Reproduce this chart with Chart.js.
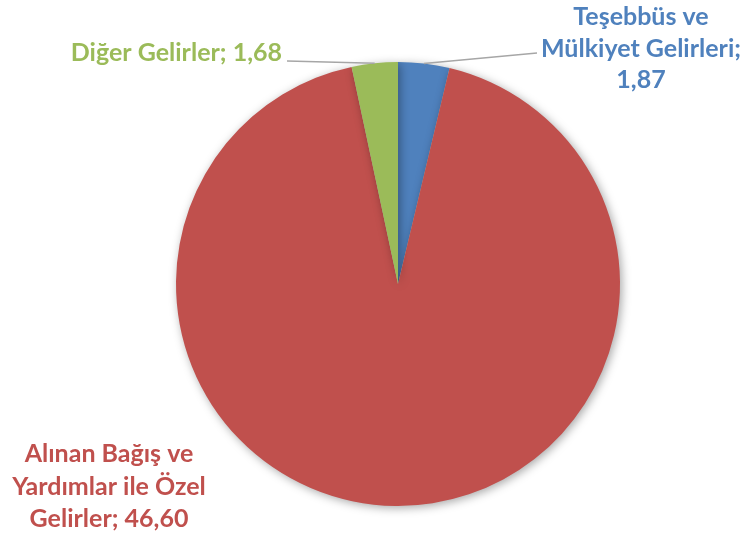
<!DOCTYPE html>
<html>
<head>
<meta charset="utf-8">
<script src="https://cdn.jsdelivr.net/npm/chart.js@4"></script>
<style>
  html, body { margin: 0; padding: 0; background: #fff; }
  #wrap { width: 745px; height: 535px; position: relative; }
</style>
</head>
<body>
<div id="wrap"><canvas id="chart" width="745" height="535"></canvas></div>
<script>
// slice data, clockwise from 12 o'clock
const categories = ['Teşebbüs ve Mülkiyet Gelirleri', 'Alınan Bağış ve Yardımlar ile Özel Gelirler', 'Diğer Gelirler'];
const values = [1.87, 46.60, 1.68];
const valueLabels = ['1,87', '46,60', '1,68'];
const colors = ['#4F81BD', '#C0504D', '#9BBB59'];

const FONT = 'bold 25px Lato, "Open Sans", sans-serif';

// shadow under the pie
const shadowPlugin = {
  id: 'pieShadow',
  beforeDatasetDraw(chart) {
    const ctx = chart.ctx;
    ctx.save();
    ctx.shadowColor = 'rgba(0,0,0,0.35)';
    ctx.shadowBlur = 10;
    ctx.shadowOffsetX = 2;
    ctx.shadowOffsetY = 2;
  },
  afterDatasetDraw(chart) {
    chart.ctx.restore();
  }
};

// data labels with leader lines, placed relative to the arcs
const labelPlugin = {
  id: 'pieLabels',
  afterDraw(chart) {
    const ctx = chart.ctx;
    const arcs = chart.getDatasetMeta(0).data;
    const cx = arcs[0].x, cy = arcs[0].y, r = arcs[0].outerRadius;
    const mid = a => (a.startAngle + a.endAngle) / 2;
    const edge = a => ({ x: cx + Math.cos(mid(a)) * r, y: cy + Math.sin(mid(a)) * r });

    ctx.save();
    ctx.font = FONT;
    ctx.textBaseline = 'alphabetic';
    ctx.strokeStyle = '#A6A6A6';
    ctx.lineWidth = 1.5;

    // Teşebbüs (upper right)
    let p = edge(arcs[0]);
    ctx.beginPath();
    ctx.moveTo(p.x, p.y);
    ctx.lineTo(cx + 139, cy - 231);
    ctx.stroke();
    ctx.fillStyle = colors[0];
    ctx.textAlign = 'center';
    ['Teşebbüs ve', 'Mülkiyet Gelirleri;', valueLabels[0]].forEach((t, i) =>
      ctx.fillText(t, cx + 243, cy - 259 + i * 31.5));

    // Diğer (upper left)
    p = edge(arcs[2]);
    ctx.beginPath();
    ctx.moveTo(p.x, p.y);
    ctx.lineTo(cx - 111, cy - 223);
    ctx.stroke();
    ctx.fillStyle = colors[2];
    ctx.textAlign = 'right';
    ctx.fillText(categories[2] + '; ' + valueLabels[2], cx - 116, cy - 223);

    // Alınan (lower left)
    ctx.fillStyle = colors[1];
    ctx.textAlign = 'center';
    ['Alınan Bağış ve', 'Yardımlar ile Özel', 'Gelirler; ' + valueLabels[1]].forEach((t, i) =>
      ctx.fillText(t, cx - 289, cy + 178 + i * 32.5));

    ctx.restore();
  }
};

new Chart(document.getElementById('chart').getContext('2d'), {
  type: 'pie',
  data: {
    labels: categories,
    datasets: [{
      data: values,
      backgroundColor: colors,
      borderWidth: 0
    }]
  },
  options: {
    responsive: false,
    animation: false,
    layout: { padding: { top: 62, bottom: 29, left: 176, right: 125 } },
    plugins: {
      legend: { display: false },
      tooltip: { enabled: false }
    }
  },
  plugins: [shadowPlugin, labelPlugin]
});
</script>
</body>
</html>
